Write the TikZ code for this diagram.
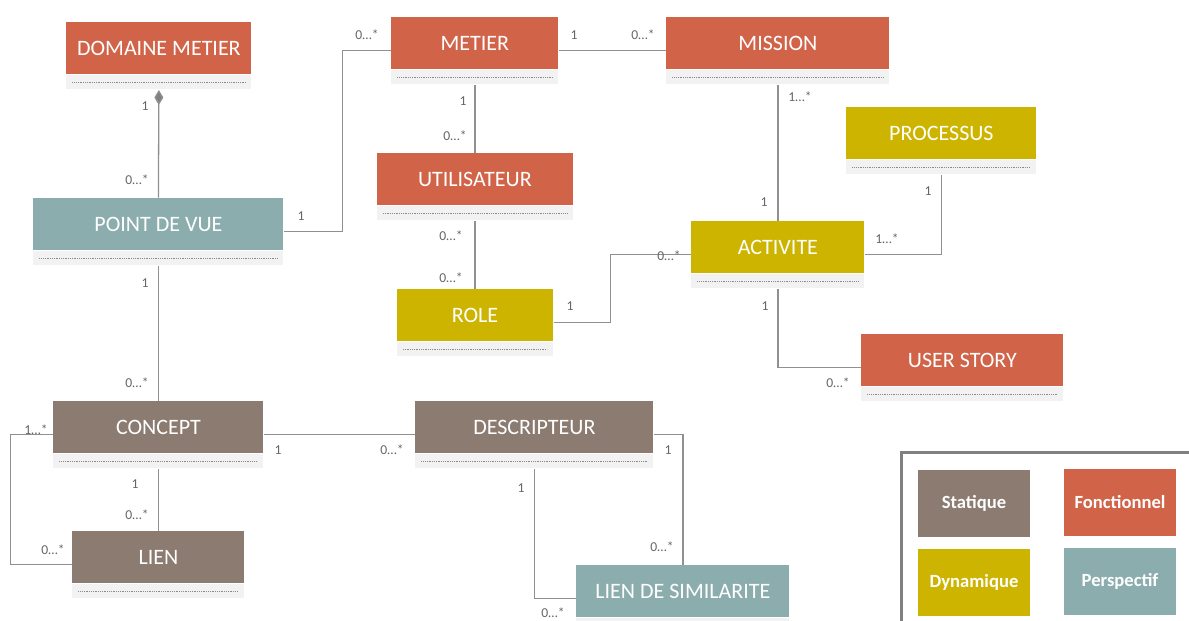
\documentclass[tikz,border=0pt]{standalone}
\usepackage{fontspec}
\setmainfont{Carlito}
\usetikzlibrary{positioning,fit,arrows.meta}
\definecolor{fonctionnel}{HTML}{D16349}
\definecolor{statique}{HTML}{8C7B70}
\definecolor{dynamique}{HTML}{CCB400}
\definecolor{perspectif}{HTML}{8CADAE}
\definecolor{compgray}{HTML}{F2F2F2}
\definecolor{dotgray}{HTML}{8A8A8A}
\definecolor{linegray}{HTML}{909090}
\definecolor{multgray}{HTML}{666666}
\definecolor{framegray}{HTML}{808080}

\begin{document}
\begin{tikzpicture}[x=0.5pt,y=-0.5pt,
    head/.style={anchor=north west,minimum height=26pt,inner sep=0pt,text=white,font=\fontsize{11}{13}\selectfont},
    comp/.style={fill=compgray,minimum height=7pt,inner sep=0pt,
      path picture={\draw[dotgray,line width=0.35pt,dash pattern=on 0.4pt off 0.5pt]
        ([xshift=3pt]path picture bounding box.west) -- ([xshift=-3pt]path picture bounding box.east);}},
    whole/.style={inner sep=0pt},
    assoc/.style={draw=linegray,line width=0.65pt},
    mult/.style={text=multgray,font=\fontsize{6.8}{8}\selectfont,inner sep=0pt},
    legend/.style={minimum width=56pt,minimum height=33.5pt,inner sep=0pt,text=white,font=\fontsize{9.3}{11}\selectfont\bfseries}]
  \useasboundingbox (0,0) rectangle (1189,621);
  \clip (0,0) rectangle (1189,621);

  % classes
  \node[head,fill=fonctionnel,minimum width=92.5pt] (dommet-h) at (66,22) {DOMAINE METIER};
  \node[comp,minimum width=92.5pt,below=0pt of dommet-h] (dommet-c) {};
  \node[whole,fit=(dommet-h)(dommet-c)] (dommet) {};

  \node[head,fill=fonctionnel,minimum width=83.5pt] (metier-h) at (391,17) {METIER};
  \node[comp,minimum width=83.5pt,below=0pt of metier-h] (metier-c) {};
  \node[whole,fit=(metier-h)(metier-c)] (metier) {};

  \node[head,fill=fonctionnel,minimum width=111.5pt] (mission-h) at (666,17) {MISSION};
  \node[comp,minimum width=111.5pt,below=0pt of mission-h] (mission-c) {};
  \node[whole,fit=(mission-h)(mission-c)] (mission) {};

  \node[head,fill=fonctionnel,minimum width=98pt] (util-h) at (376.5,153) {UTILISATEUR};
  \node[comp,minimum width=98pt,below=0pt of util-h] (util-c) {};
  \node[whole,fit=(util-h)(util-c)] (util) {};

  \node[head,fill=dynamique,minimum width=95pt] (processus-h) at (846,107) {PROCESSUS};
  \node[comp,minimum width=95pt,below=0pt of processus-h] (processus-c) {};
  \node[whole,fit=(processus-h)(processus-c)] (processus) {};

  \node[head,fill=perspectif,minimum width=125pt] (pdv-h) at (33,198) {POINT DE VUE};
  \node[comp,minimum width=125pt,below=0pt of pdv-h] (pdv-c) {};
  \node[whole,fit=(pdv-h)(pdv-c)] (pdv) {};

  \node[head,fill=dynamique,minimum width=86.5pt] (activite-h) at (691,221) {ACTIVITE};
  \node[comp,minimum width=86.5pt,below=0pt of activite-h] (activite-c) {};
  \node[whole,fit=(activite-h)(activite-c)] (activite) {};

  \node[head,fill=dynamique,minimum width=78pt] (role-h) at (396.5,289) {ROLE};
  \node[comp,minimum width=78pt,below=0pt of role-h] (role-c) {};
  \node[whole,fit=(role-h)(role-c)] (role) {};

  \node[head,fill=fonctionnel,minimum width=101pt] (story-h) at (861,334) {USER STORY};
  \node[comp,minimum width=101pt,below=0pt of story-h] (story-c) {};
  \node[whole,fit=(story-h)(story-c)] (story) {};

  \node[head,fill=statique,minimum width=105pt] (concept-h) at (53,401) {CONCEPT};
  \node[comp,minimum width=105pt,below=0pt of concept-h] (concept-c) {};
  \node[whole,fit=(concept-h)(concept-c)] (concept) {};

  \node[head,fill=statique,minimum width=119pt] (descr-h) at (415,401) {DESCRIPTEUR};
  \node[comp,minimum width=119pt,below=0pt of descr-h] (descr-c) {};
  \node[whole,fit=(descr-h)(descr-c)] (descr) {};

  \node[head,fill=statique,minimum width=86pt] (lien-h) at (72,531) {LIEN};
  \node[comp,minimum width=86pt,below=0pt of lien-h] (lien-c) {};
  \node[whole,fit=(lien-h)(lien-c)] (lien) {};

  \node[head,fill=perspectif,minimum width=106.5pt] (simil-h) at (576,565) {LIEN DE SIMILARITE};
  \node[comp,minimum width=106.5pt,below=0pt of simil-h] (simil-c) {};
  \node[whole,fit=(simil-h)(simil-c)] (simil) {};

  % associations
  \draw[assoc,{Diamond[length=7.5pt,width=4.5pt,fill=framegray]}-] (dommet.south) -- (pdv.north);
  \draw[assoc] (pdv.east) -- ++(58,0) |- (metier.west);
  \draw[assoc] (metier.east) -- (mission.west);
  \draw[assoc] (metier.south) -- (util.north);
  \draw[assoc] (mission.south) -- (activite.north);
  \draw[assoc] (util.south) -- (role.north);
  \draw[assoc] (role.east) -- ++(57,0) |- (activite.west);
  \draw[assoc] (processus.south) |- (activite.east);
  \draw[assoc] (activite.south) |- (story.west);
  \draw[assoc] (pdv.south) -- (concept.north);
  \draw[assoc] (concept.east) -- (descr.west);
  \draw[assoc] (concept.west) -- ++(-42,0) |- (lien.west);
  \draw[assoc] (concept.south) -- (lien.north);
  \draw[assoc] (descr.east) -| (simil.north);
  \draw[assoc] (descr.south) |- (simil.west);

  % multiplicities
  \node[mult] (m1) at (145,106) {1};
  \node[mult] (m2) at (137,180) {0…*};
  \node[mult] (m3) at (301,216) {1};
  \node[mult] (m4) at (367,35) {0…*};
  \node[mult] (m5) at (574,35) {1};
  \node[mult] (m6) at (643,35) {0…*};
  \node[mult] (m7) at (463,101) {1};
  \node[mult] (m8) at (455,136) {0…*};
  \node[mult] (m9) at (800,97) {1…*};
  \node[mult] (m10) at (764,202) {1};
  \node[mult] (m11) at (451,236) {0…*};
  \node[mult] (m12) at (451,278) {0…*};
  \node[mult] (m13) at (570,306) {1};
  \node[mult] (m14) at (669,256) {0…*};
  \node[mult] (m15) at (928,191) {1};
  \node[mult] (m16) at (887,239) {1…*};
  \node[mult] (m17) at (765,306) {1};
  \node[mult] (m18) at (838,383) {0…*};
  \node[mult] (m19) at (145,283) {1};
  \node[mult] (m20) at (137,383) {0…*};
  \node[mult] (m21) at (278,450) {1};
  \node[mult] (m22) at (392,450) {0…*};
  \node[mult] (m23) at (36,430) {1…*};
  \node[mult] (m24) at (53,550) {0…*};
  \node[mult] (m25) at (135,484) {1};
  \node[mult] (m26) at (137,515) {0…*};
  \node[mult] (m27) at (668,450) {1};
  \node[mult] (m28) at (662,547) {0…*};
  \node[mult] (m29) at (521,488) {1};
  \node[mult] (m30) at (553,613) {0…*};

  % legend
  \draw[framegray,line width=1.5pt] (901,640) -- (901,452) -- (1200,452);
  \node[legend,fill=statique] (leg-stat) at (974,503.5) {Statique};
  \node[legend,fill=fonctionnel] (leg-fonc) at (1120,502.5) {Fonctionnel};
  \node[legend,fill=dynamique] (leg-dyn) at (974,582) {Dynamique};
  \node[legend,fill=perspectif] (leg-persp) at (1120,581.5) {Perspectif};
\end{tikzpicture}
\end{document}
